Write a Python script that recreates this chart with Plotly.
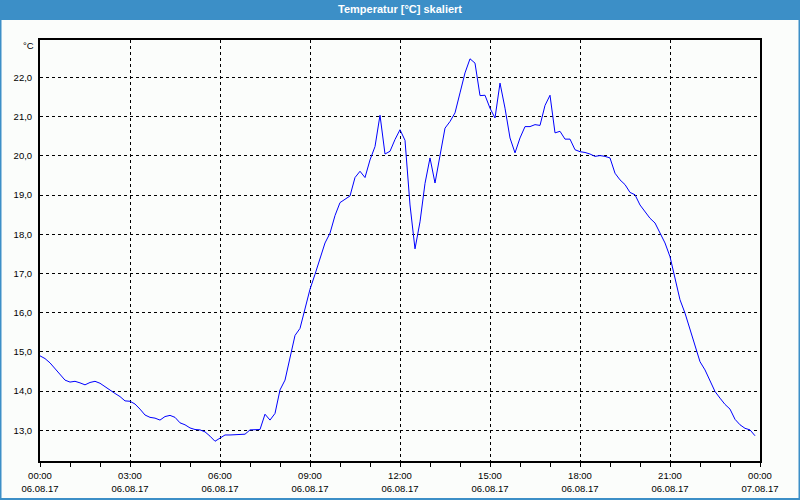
import plotly.graph_objects as go

DATE = "2017-08-06"
times = [
    "00:00","00:10","00:20","00:30","00:40","00:50","01:00","01:10","01:20","01:30","01:40","01:50",
    "02:00","02:10","02:20","02:30","02:40","02:50","03:00","03:10","03:20","03:30","03:40","03:50",
    "04:00","04:10","04:20","04:30","04:40","04:50","05:00","05:10","05:20","05:30","05:40","05:50",
    "06:00","06:10","06:20","06:30","06:40","06:50","07:00","07:10","07:20","07:30","07:40","07:50",
    "08:00","08:10","08:20","08:30","08:40","08:50","09:00","09:10","09:20","09:30","09:40","09:50",
    "10:00","10:10","10:20","10:30","10:40","10:50","11:00","11:10","11:20","11:30","11:40","11:50",
    "12:00","12:10","12:20","12:30","12:40","12:50","13:00","13:10","13:20","13:30","13:40","13:50",
    "14:00","14:10","14:20","14:30","14:40","14:50","15:00","15:10","15:20","15:30","15:40","15:50",
    "16:00","16:10","16:20","16:30","16:40","16:50","17:00","17:10","17:20","17:30","17:40","17:50",
    "18:00","18:10","18:20","18:30","18:40","18:50","19:00","19:10","19:20","19:30","19:40","19:50",
    "20:00","20:10","20:20","20:30","20:40","20:50","21:00","21:10","21:20","21:30","21:40","21:50",
    "22:00","22:10","22:20","22:30","22:40","22:50","23:00","23:10","23:20","23:30","23:40","23:50",
]
temps = [
    14.90,14.83,14.72,14.57,14.42,14.28,14.23,14.25,14.21,14.16,14.22,14.25,
    14.20,14.11,14.01,13.94,13.86,13.75,13.74,13.67,13.54,13.39,13.33,13.31,
    13.26,13.35,13.38,13.33,13.19,13.14,13.06,13.02,13.01,12.96,12.85,12.72,
    12.80,12.88,12.88,12.89,12.89,12.90,13.01,13.02,13.02,13.41,13.26,13.43,
    14.03,14.28,14.85,15.42,15.60,16.07,16.60,16.98,17.38,17.78,18.03,18.48,
    18.81,18.90,18.98,19.45,19.61,19.45,19.90,20.24,21.04,20.05,20.12,20.42,
    20.67,20.40,18.75,17.63,18.32,19.30,19.95,19.31,19.99,20.71,20.88,21.10,
    21.61,22.12,22.48,22.37,21.54,21.55,21.22,20.97,21.86,21.22,20.46,20.08,
    20.46,20.75,20.75,20.80,20.78,21.29,21.55,20.59,20.63,20.43,20.43,20.16,
    20.11,20.09,20.05,19.99,20.01,19.99,19.95,19.56,19.39,19.27,19.07,19.01,
    18.75,18.58,18.41,18.29,18.05,17.78,17.43,16.84,16.33,15.99,15.56,15.14,
    14.75,14.54,14.28,13.99,13.82,13.66,13.54,13.28,13.14,13.05,13.01,12.86,
]
y_ticks = [13.0, 14.0, 15.0, 16.0, 17.0, 18.0, 19.0, 20.0, 21.0, 22.0]
title_text = "Temperatur [°C] skaliert"
unit_text = "°C"
x_start = "2017-08-06 00:00"
x_end = "2017-08-07 00:00"

x = [f"{DATE} {t}" for t in times]

W, H = 800, 500
L, R, T, B = 40, 40, 40, 39
pw, ph = W - L - R, H - T - B
BLUE = "#3c8fc7"

def px(xp):
    return (xp - L) / pw

def py(yp):
    return (H - B - yp) / ph

fig = go.Figure()
fig.add_trace(go.Scatter(x=x, y=temps, mode="lines",
                         line=dict(color="#0000ff", width=1), hoverinfo="skip"))
# invisible helper trace so the second (date-line) x axis is drawn
fig.add_trace(go.Scatter(x=[x_start], y=[y_ticks[0]], xaxis="x2", mode="markers",
                         marker=dict(opacity=0), hoverinfo="skip"))

font = dict(family="Liberation Sans, Arial, sans-serif", size=9.5, color="#000000")

fig.update_layout(
    width=W, height=H, autosize=False,
    margin=dict(l=L, r=R, t=T, b=B, pad=0),
    paper_bgcolor="#fbfdfb", plot_bgcolor="#fbfdfb",
    separators=",.",
    showlegend=False,
    font=font,
    xaxis=dict(
        type="date", range=[x_start, x_end], automargin=False,
        dtick=3 * 3600000, tick0=x_start,
        tickformat="%H:%M",
        showgrid=True, gridcolor="#000000", gridwidth=1, griddash="3px,3px",
        showline=True, linecolor="#000000", linewidth=2, mirror=True,
        ticks="outside", ticklen=4, tickcolor="#000000", tickwidth=1,
        minor=dict(dtick=3600000, ticks="outside", ticklen=4, tickcolor="#000000", showgrid=False),
        zeroline=False, tickfont=font, ticklabelstandoff=1,
    ),
    xaxis2=dict(
        type="date", range=[x_start, x_end], automargin=False,
        overlaying="x", anchor="y", side="bottom",
        dtick=3 * 3600000, tick0=x_start,
        tickformat="%d.%m.%y",
        showgrid=False, showline=False, ticks="", zeroline=False,
        tickfont=font, ticklabelstandoff=20,
    ),
    yaxis=dict(
        range=[12.216, 22.96], automargin=False,
        tickvals=y_ticks, tickformat=".1f",
        showgrid=True, gridcolor="#000000", gridwidth=1, griddash="3px,3px",
        showline=True, linecolor="#000000", linewidth=2, mirror=True,
        ticks="", zeroline=False, tickfont=font, ticklabelstandoff=4,
    ),
    shapes=[
        dict(type="rect", xref="paper", yref="paper",
             x0=px(0), x1=px(800), y0=py(20), y1=py(0),
             fillcolor=BLUE, line=dict(width=0), layer="below"),
        dict(type="rect", xref="paper", yref="paper",
             x0=px(0.5), x1=px(799.5), y0=py(499), y1=py(0.5),
             fillcolor="rgba(0,0,0,0)", line=dict(color=BLUE, width=2)),
    ],
    annotations=[
        dict(text="<b>" + title_text + "</b>", xref="paper", yref="paper", x=0.5, y=py(9),
             xanchor="center", yanchor="middle", showarrow=False,
             font=dict(family="Liberation Sans, Arial, sans-serif", size=11, color="#ffffff")),
        dict(text=unit_text, xref="paper", yref="paper", x=px(36), y=py(45),
             xanchor="right", yanchor="middle", showarrow=False, font=font),
    ],
)

fig.write_html("out.html")
